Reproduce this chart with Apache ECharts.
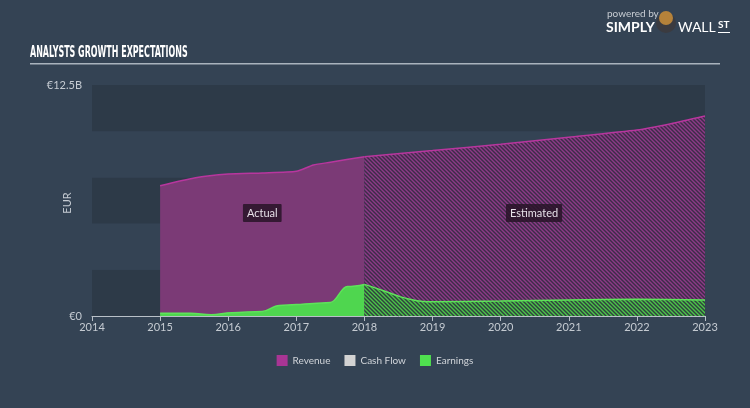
<!DOCTYPE html>
<html><head><meta charset="utf-8">
<script src="https://cdn.jsdelivr.net/npm/echarts@6/dist/echarts.min.js"></script>
<style>html,body{margin:0;padding:0;background:#344354;}#c{width:750px;height:408px;}</style>
</head><body><div id="c"></div>
<script>
// values in billions EUR, x in fractional years
var yearTicks = [2014,2015,2016,2017,2018,2019,2020,2021,2022,2023];
var revenueActual = [[2015,7.05],[2015.5,7.47],[2016,7.68],[2016.5,7.74],[2017,7.83],[2017.25,8.17],[2017.5,8.32],[2018,8.62]];
var revenueEstimated = [[2018,8.62],[2019,8.95],[2020,9.29],[2021,9.67],[2022,10.06],[2022.5,10.4],[2023,10.82]];
var earningsActual = [[2015,0.15],[2015.45,0.15],[2015.75,0.07],[2016.05,0.17],[2016.5,0.25],[2016.75,0.57],[2017,0.62],[2017.25,0.68],[2017.5,0.73],[2017.75,1.6],[2018,1.71]];
var earningsEstimated = [[2018,1.71],[2018.28,1.37],[2018.52,1.05],[2018.77,0.83],[2018.95,0.77],[2020,0.81],[2021,0.87],[2022,0.9],[2023,0.87]];
var cashFlow = [];
var yMax = 12.5, yStep = 2.5;

function hatch(bg, fg){
  var c = document.createElement('canvas'); c.width = 4; c.height = 4;
  var g = c.getContext('2d');
  g.fillStyle = bg; g.fillRect(0,0,4,4);
  g.strokeStyle = fg; g.lineWidth = 1.4;
  g.beginPath();
  g.moveTo(0,0); g.lineTo(4,4);
  g.moveTo(-2,2); g.lineTo(2,6);
  g.moveTo(2,-2); g.lineTo(6,2);
  g.stroke();
  return {image: c, repeat: 'repeat'};
}

var chart = echarts.init(document.getElementById('c'));
var tickFont = {color:'#c5cbd2', fontFamily:'Lato, sans-serif', fontSize:11};
var boxLabel = {show:true, color:'#e6e0e8', fontFamily:'Lato, sans-serif', fontSize:11,
  backgroundColor:'rgba(40,20,40,0.85)', padding:[4,4,3,4], borderRadius:1};

chart.setOption({
  backgroundColor:'#344354',
  animation:false,
  grid:{left:92, right:45, top:85, bottom:92},
  graphic:[
    {type:'text', x:30, y:46, scaleX:0.59, scaleY:1, originX:0, originY:0,
      style:{text:'ANALYSTS GROWTH EXPECTATIONS', fill:'#ffffff',
      font:'bold 15px "DejaVu Sans Condensed", "Liberation Sans Narrow", sans-serif'}},
    {type:'rect', shape:{x:30, y:63, width:690, height:1.5}, style:{fill:'#a9b3bd'}},
    {type:'text', x:67, y:203, rotation:Math.PI/2,
      style:{text:'EUR', fill:'#c5cbd2', font:'11px Lato, sans-serif', textAlign:'center', textVerticalAlign:'middle'}},
    {type:'text', left:607, top:9, style:{text:'powered by', fill:'#c8cdd3', font:'10px Lato, sans-serif'}},
    {type:'text', left:606, top:20, style:{text:'SIMPLY', fill:'#ffffff', font:'bold 14px Lato, sans-serif'}},
    {type:'circle', shape:{cx:666, cy:23, r:10}, style:{fill:'#3b3b40'}},
    {type:'circle', shape:{cx:666, cy:18, r:7}, style:{fill:'#b5823a'}},
    {type:'text', left:678, top:20, style:{text:'WALL', fill:'#ffffff', font:'14px Lato, sans-serif'}},
    {type:'text', left:718, top:20, style:{text:'ST', fill:'#ffffff', font:'bold 10px Lato, sans-serif'}},
    {type:'rect', shape:{x:718, y:32, width:12, height:1}, style:{fill:'#ffffff'}}
  ],
  legend:{
    data:['Revenue','Cash Flow','Earnings'], top:350, left:'center',
    itemWidth:11, itemHeight:11, itemGap:14, icon:'rect',
    textStyle:{color:'#d0d4d9', fontFamily:'Lato, sans-serif', fontSize:10},
    selectedMode:false
  },
  xAxis:{
    type:'value', min:2014, max:2023, interval:1,
    axisLine:{show:true, lineStyle:{color:'#b9c0c8', width:1}},
    axisTick:{show:true, length:5, lineStyle:{color:'#b9c0c8'}},
    splitLine:{show:false},
    axisLabel:Object.assign({margin:6, formatter:function(v){return yearTicks.indexOf(v)>=0?String(v):'';}}, tickFont)
  },
  yAxis:{
    type:'value', min:0, max:yMax, interval:yStep,
    axisLine:{show:false}, axisTick:{show:false},
    splitLine:{show:false},
    splitArea:{show:true, areaStyle:{color:['#2d3a48','#344354']}},
    axisLabel:Object.assign({margin:10, formatter:function(v){
      if(v===0) return '€0';
      if(v===yMax) return '€' + v + 'B';
      return '';
    }}, tickFont)
  },
  series:[
    {name:'Revenue', type:'line', data:revenueActual, symbol:'none', smooth:0.2,
      itemStyle:{color:'#a83594'},
      lineStyle:{color:'#b8369e', width:1.5}, areaStyle:{color:'#7b3a76', opacity:1}, z:2,
      markPoint:{symbol:'rect', symbolSize:1, itemStyle:{color:'transparent'},
        data:[{coord:[2016.5,5.57], label:Object.assign({formatter:'Actual'}, boxLabel)}]}},
    {name:'Revenue', type:'line', data:revenueEstimated, symbol:'none', smooth:0.2,
      itemStyle:{color:'#a83594'},
      lineStyle:{color:'#b8369e', width:1.5}, areaStyle:{color:hatch('#3d2c48','#8d3a88'), opacity:1}, z:2,
      markPoint:{symbol:'rect', symbolSize:1, itemStyle:{color:'transparent'},
        data:[{coord:[2020.49,5.57], label:Object.assign({formatter:'Estimated'}, boxLabel)}]}},
    {name:'Cash Flow', type:'line', data:cashFlow, symbol:'none', itemStyle:{color:'#d3d3d3'}},
    {name:'Earnings', type:'line', data:earningsActual, symbol:'none', smooth:0.4, smoothMonotone:'x',
      itemStyle:{color:'#4fe04f'},
      lineStyle:{color:'#5ee35a', width:1.5}, areaStyle:{color:'#4fd64f', opacity:1}, z:3},
    {name:'Earnings', type:'line', data:earningsEstimated, symbol:'none', smooth:0.3,
      itemStyle:{color:'#4fe04f'},
      lineStyle:{color:'#5ee35a', width:1.5}, areaStyle:{color:hatch('#2f403f','#4cc448'), opacity:1}, z:3}
  ]
});
</script></body></html>
